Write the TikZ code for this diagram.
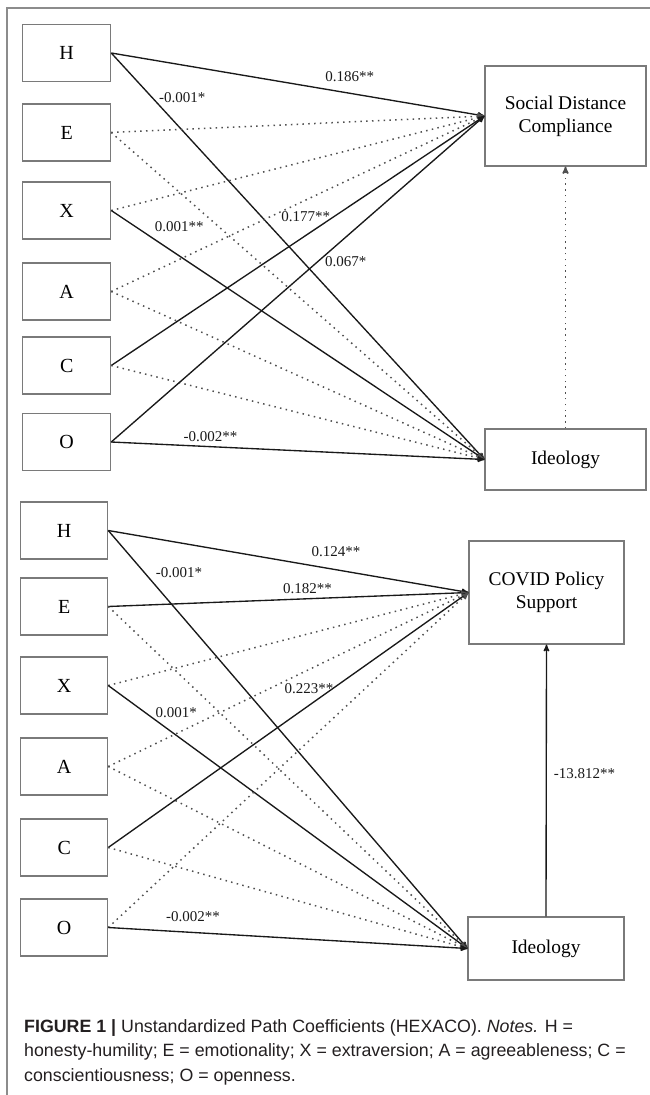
\documentclass[tikz,border=0pt]{standalone}
\usepackage{fontspec}
\setmainfont{Liberation Serif}
\newfontfamily\capfont{Liberation Sans}
\usetikzlibrary{arrows}
\definecolor{boxgray}{HTML}{7A7A7A}
\definecolor{dotgray}{HTML}{505050}
\definecolor{framegray}{HTML}{8C8C8C}
\definecolor{captext}{HTML}{231F20}
\tikzset{
>=stealth', % small filled heads
trait/.style={draw=boxgray, line width=1.1pt, minimum height=57pt, inner sep=0pt, font=\fontsize{20}{24}\selectfont},
outcome/.style={draw=boxgray, line width=1.1pt, inner sep=0pt, align=center, font=\fontsize{19.4}{23}\selectfont},
sig/.style={->, line width=1.35pt, black!90}, % significant path
nonsig/.style={->, line width=1.5pt, dotgray, dash pattern=on 1.5pt off 4.3pt}, % n.s. path
coef/.style={inner sep=1pt, font=\fontsize{15}{18}\selectfont},
}

\begin{document}
\begin{tikzpicture}[x=1pt,y=-1pt]
  \useasboundingbox (0,0) rectangle (650,1095);
  \draw[framegray, line width=1.2pt] (7,1095) -- (7,8) -- (650,8);

  % social distance model
  \node[trait, minimum width=88pt] (h1) at (66.7,53) {H};
  \node[trait, minimum width=88pt] (e1) at (66.7,132.5) {E};
  \node[trait, minimum width=88pt] (x1) at (66.7,210.5) {X};
  \node[trait, minimum width=88pt] (a1) at (66.7,291.5) {A};
  \node[trait, minimum width=88pt] (c1) at (66.7,365.5) {C};
  \node[trait, minimum width=88pt] (o1) at (66.7,442) {O};
  \node[outcome, minimum width=161pt, minimum height=100pt] (sdc) at (565.5,116) {Social Distance\\Compliance};
  \node[outcome, minimum width=161pt, minimum height=61pt] (ideo1) at (565.5,459.5) {Ideology};

  \path
  (h1.east) edge[sig] node[coef,pos=.639,yshift=16.3pt]{0.186**} (sdc.west)
  (h1.east) edge[sig] node[coef,pos=.19,yshift=32.2pt]{-0.001*} (ideo1.west)
  (e1.east) edge[nonsig] (sdc.west)
  (e1.east) edge[nonsig] (ideo1.west)
  (x1.east) edge[nonsig] (sdc.west)
  (x1.east) edge[sig] node[coef,pos=.182,yshift=28.8pt]{0.001**} (ideo1.west)
  (a1.east) edge[nonsig] (sdc.west)
  (a1.east) edge[nonsig] (ideo1.west)
  (c1.east) edge[sig] node[coef,pos=.521,yshift=18.5pt]{0.177**} (sdc.west)
  (c1.east) edge[nonsig] (ideo1.west)
  (o1.east) edge[sig] node[coef,pos=.628,yshift=-24.8pt]{0.067*} (sdc.west)
  (o1.east) edge[sig] node[coef,pos=.266,yshift=9.7pt]{-0.002**} (ideo1.west)
  (ideo1.north) edge[nonsig] (sdc.south);

  % covid policy model
  \node[trait, minimum width=87pt] (h2) at (64.2,530.5) {H};
  \node[trait, minimum width=87pt] (e2) at (64.2,606.5) {E};
  \node[trait, minimum width=87pt] (x2) at (64.2,685.5) {X};
  \node[trait, minimum width=87pt] (a2) at (64.2,766.5) {A};
  \node[trait, minimum width=87pt] (c2) at (64.2,847.5) {C};
  \node[trait, minimum width=87pt] (o2) at (64.2,927.5) {O};
  \node[outcome, minimum width=155pt, minimum height=103pt] (cps) at (546.5,592.5) {COVID Policy\\Support};
  \node[outcome, minimum width=156pt, minimum height=63pt] (ideo2) at (546,948.5) {Ideology};

  \path
  (h2.east) edge[sig] node[coef,pos=.632,yshift=17.7pt]{0.124**} (cps.west)
  (h2.east) edge[sig] node[coef,pos=.197,yshift=39.9pt]{-0.001*} (ideo2.west)
  (e2.east) edge[sig] node[coef,pos=.553,yshift=9.8pt]{0.182**} (cps.west)
  (e2.east) edge[nonsig] (ideo2.west)
  (x2.east) edge[nonsig] (cps.west)
  (x2.east) edge[sig] node[coef,pos=.189,yshift=22.2pt]{0.001*} (ideo2.west)
  (a2.east) edge[nonsig] (cps.west)
  (a2.east) edge[nonsig] (ideo2.west)
  (c2.east) edge[sig] node[coef,pos=.557,yshift=16.5pt]{0.223**} (cps.west)
  (c2.east) edge[nonsig] (ideo2.west)
  (o2.east) edge[nonsig] (cps.west)
  (o2.east) edge[sig] node[coef,pos=.236,yshift=15.5pt]{-0.002**} (ideo2.west)
  (ideo2.north) edge[sig] node[coef,pos=.527,right=6pt]{-13.812**} (cps.south);

  \node[anchor=north west, inner sep=0pt, align=left, text=captext,
    font=\capfont\fontsize{17.8}{24.7}\selectfont] (caption) at (24,1019)
    {\textbf{FIGURE 1 |} Unstandardized Path Coefficients (HEXACO). \textit{Notes.} H =\\
     honesty-humility; E = emotionality; X = extraversion; A = agreeableness; C =\\
     conscientiousness; O = openness.};
\end{tikzpicture}
\end{document}
